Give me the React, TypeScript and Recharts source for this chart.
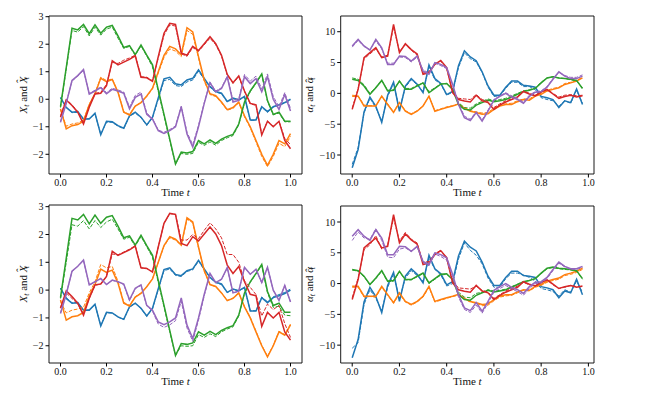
import React from "react";
import { LineChart, Line, XAxis, YAxis, ReferenceArea } from "recharts";

// time grid (left panels use all 41 steps, right panels stop at 0.975)
const T_X = [
  0, 0.025, 0.05, 0.075, 0.1, 0.125, 0.15, 0.175, 0.2, 0.225, 0.25, 0.275, 0.3, 0.325,
  0.35, 0.375, 0.4, 0.425, 0.45, 0.475, 0.5, 0.525, 0.55, 0.575, 0.6, 0.625, 0.65, 0.675,
  0.7, 0.725, 0.75, 0.775, 0.8, 0.825, 0.85, 0.875, 0.9, 0.925, 0.95, 0.975, 1.0
];
const T_A = T_X.slice(0, 40);

const X_TICKS = [0, 0.2, 0.4, 0.6, 0.8, 1.0];
const X_Y_TICKS = [-2, -1, 0, 1, 2, 3];
const A_Y_TICKS = [-10, -5, 0, 5, 10];

// state X_t (solid)
const xBlue = [0.07, -0.3, -0.47, -0.45, -0.72, -0.72, -0.51, -1.29, -0.8, -0.82, -0.96, -1.05, -0.6, -0.47, -0.65, -0.93, -0.65, 0.05, 0.74, 0.8, 0.56, 0.52, 0.7, 0.76, 1.07, 0.76, 0.46, 0.28, 0.22, -0.08, 0.04, -0.02, 0.1, -0.75, -0.75, -0.27, -0.45, -0.27, -0.2, -0.12, 0.0];
const xOrange = [-0.35, -1.08, -0.96, -0.92, -0.8, -0.2, 0.2, 0.76, 0.64, 0.72, 0.25, -0.47, -0.57, -0.25, -0.12, 0.12, 0.4, 1.0, 1.6, 1.92, 1.83, 1.62, 2.6, 2.45, 1.55, 0.7, 0.2, 0.13, -0.1, -0.38, -0.3, -0.1, -0.6, -1.0, -1.5, -2.0, -2.4, -2.0, -1.5, -1.62, -1.25];
const xGreen = [-0.27, 1.15, 2.58, 2.52, 2.72, 2.38, 2.7, 2.4, 2.62, 2.68, 2.3, 1.88, 1.95, 1.62, 1.97, 1.6, 1.25, 0.35, -0.55, -1.45, -2.35, -1.92, -1.95, -1.9, -1.5, -1.62, -1.48, -1.6, -1.45, -1.35, -1.28, -0.9, -0.1, 0.3, 0.6, 0.92, -0.05, -0.55, -0.47, -0.8, -0.8];
const xRed = [-0.65, -0.03, -0.23, -0.47, -0.9, -0.29, 0.19, 0.22, 0.49, 1.4, 1.25, 1.35, 1.45, 1.58, 0.8, 0.78, 0.65, 1.55, 2.4, 2.76, 2.72, 1.68, 1.6, 1.92, 1.77, 2.02, 2.27, 2.02, 1.6, 0.9, 0.6, 0.85, 0.3, -0.15, -0.2, -1.3, -0.8, -1.0, -0.8, -1.5, -1.8];
const xPurple = [-0.84, -0.15, 0.68, 0.86, 1.08, 0.19, 0.3, 0.42, 0.2, 0.36, 0.3, 0.22, -0.35, 0.07, 0.19, -0.55, -0.72, -1.14, -1.24, -1.14, -1.0, -0.28, -1.26, -1.74, -1.0, -0.15, 0.6, 0.27, 0.39, 0.81, -0.1, -0.04, 0.82, 0.57, 0.75, 0.27, 0.82, 0.0, -0.37, 0.17, -0.43];

// estimate X^_t, first run (dashed, top)
const xhBlue1 = [0.05, -0.28, -0.49, -0.47, -0.74, -0.7, -0.53, -1.27, -0.83, -0.84, -0.98, -1.07, -0.62, -0.5, -0.67, -0.95, -0.68, 0.0, 0.68, 0.72, 0.5, 0.46, 0.63, 0.7, 1.02, 0.72, 0.44, 0.26, 0.2, -0.1, 0.02, -0.04, 0.08, -0.77, -0.76, -0.29, -0.47, -0.29, -0.22, -0.14, -0.02];
const xhOrange1 = [-0.38, -0.98, -0.9, -0.86, -0.76, -0.18, 0.22, 0.8, 0.68, 0.74, 0.27, -0.45, -0.55, -0.24, -0.12, 0.1, 0.38, 0.95, 1.52, 1.83, 1.75, 1.55, 2.5, 2.36, 1.5, 0.66, 0.17, 0.1, -0.13, -0.4, -0.33, -0.13, -0.64, -1.04, -1.55, -2.08, -2.45, -2.08, -1.6, -1.72, -1.35];
const xhGreen1 = [-0.3, 1.1, 2.5, 2.44, 2.64, 2.3, 2.62, 2.33, 2.55, 2.62, 2.22, 1.85, 1.92, 1.6, 1.94, 1.57, 1.18, 0.28, -0.6, -1.5, -2.35, -1.97, -2.0, -1.97, -1.56, -1.68, -1.55, -1.67, -1.5, -1.4, -1.32, -0.93, -0.13, 0.27, 0.58, 0.9, -0.08, -0.57, -0.5, -0.82, -0.82];
const xhRed1 = [-0.6, 0.0, -0.2, -0.45, -0.86, -0.26, 0.22, 0.25, 0.54, 1.34, 1.3, 1.42, 1.5, 1.6, 0.82, 0.8, 0.67, 1.5, 2.33, 2.7, 2.66, 1.65, 1.56, 1.88, 1.74, 1.98, 2.22, 1.98, 1.57, 0.88, 0.58, 0.82, 0.28, -0.17, -0.22, -1.27, -0.8, -0.98, -0.8, -1.42, -1.65];
const xhPurple1 = [-0.8, -0.12, 0.66, 0.84, 1.05, 0.2, 0.33, 0.45, 0.24, 0.4, 0.34, 0.26, -0.28, 0.14, 0.26, -0.5, -0.7, -1.12, -1.2, -1.1, -0.97, -0.25, -1.2, -1.65, -0.95, -0.12, 0.62, 0.3, 0.42, 0.84, -0.05, 0.02, 0.9, 0.66, 0.84, 0.38, 0.92, 0.1, -0.27, 0.24, -0.33];

// estimate X^_t, second run (dashed, bottom)
const xhBlue2 = [0.06, -0.27, -0.46, -0.44, -0.72, -0.71, -0.52, -1.27, -0.82, -0.82, -0.97, -1.06, -0.61, -0.48, -0.66, -0.94, -0.67, 0.02, 0.7, 0.76, 0.53, 0.49, 0.67, 0.73, 1.04, 0.74, 0.45, 0.27, 0.2, -0.09, 0.03, -0.03, 0.09, -0.74, -0.74, -0.25, -0.42, -0.24, -0.16, -0.08, 0.04];
const xhOrange2 = [-0.4, -0.82, -0.72, -0.68, -0.62, -0.1, 0.3, 0.92, 0.8, 0.85, 0.32, -0.44, -0.55, -0.24, -0.1, 0.13, 0.41, 1.0, 1.58, 1.88, 1.8, 1.6, 2.55, 2.42, 1.52, 0.68, 0.2, 0.12, -0.1, -0.37, -0.28, -0.1, -0.6, -0.98, -1.48, -1.98, -2.38, -1.98, -1.48, -1.6, -1.22];
const xhGreen2 = [-0.3, 1.0, 2.35, 2.3, 2.5, 2.2, 2.5, 2.25, 2.45, 2.55, 2.2, 1.83, 1.9, 1.58, 1.93, 1.56, 1.18, 0.28, -0.6, -1.5, -2.35, -2.0, -2.02, -2.0, -1.6, -1.7, -1.57, -1.67, -1.5, -1.4, -1.32, -0.93, -0.12, 0.28, 0.58, 0.9, -0.1, -0.62, -0.58, -0.9, -0.92];
const xhRed2 = [-0.62, -0.1, -0.3, -0.5, -0.85, -0.3, 0.17, 0.22, 0.5, 1.3, 1.27, 1.37, 1.47, 1.6, 0.8, 0.78, 0.66, 1.55, 2.4, 2.75, 2.72, 1.8, 1.8, 2.0, 1.85, 2.15, 2.42, 2.2, 1.88, 1.28, 1.28, 1.0, 0.33, 0.1, -0.16, -0.93, -0.5, -0.7, -0.55, -1.2, -1.7];
const xhPurple2 = [-0.82, -0.13, 0.67, 0.85, 1.06, 0.18, 0.3, 0.4, 0.2, 0.35, 0.3, 0.2, -0.38, 0.05, 0.17, -0.57, -0.76, -1.22, -1.34, -1.25, -1.1, -0.4, -1.36, -1.84, -1.08, -0.2, 0.58, 0.26, 0.38, 0.8, -0.1, -0.04, 0.82, 0.56, 0.74, 0.26, 0.82, 0.0, -0.36, 0.17, -0.42];

// control alpha_t (solid)
const aBlue = [-12.05, -9.1, -3.0, -0.6, -2.1, -4.7, -0.3, 1.8, -2.9, 1.2, 2.4, 1.5, 0.1, 4.6, 2.4, 1.6, -0.2, 0.3, 4.5, 6.9, 5.9, 5.3, 3.5, 1.2, -0.3, -0.3, 1.0, 2.0, 2.0, 1.3, 1.2, 1.0, -0.5, -0.7, -1.0, -2.3, -1.2, -1.5, 0.7, -1.8];
const aOrange = [-0.45, -0.45, -2.05, -2.05, -2.05, -0.45, -1.8, -3.1, -1.5, -2.9, -3.4, -2.9, -2.05, -0.45, -2.9, -2.6, -2.3, -2.05, -1.75, -2.4, -2.9, -3.1, -3.4, -3.3, -2.6, -2.05, -1.8, -1.8, -1.35, -1.0, -1.1, -0.45, -0.15, 0.4, 0.65, 0.9, 1.45, 1.7, 2.0, 2.5];
const aGreen = [2.3, 2.1, 1.2, -0.15, 0.9, 2.1, 0.4, 0.5, 2.0, 0.65, 0.65, 1.2, 1.7, 0.1, 0.8, 1.5, 1.6, 0.65, -1.8, -2.6, -2.7, -1.9, -1.5, -1.1, -1.35, -1.2, -1.0, -0.6, -0.15, 0.3, 0.5, 0.8, 1.7, 2.5, 2.7, 2.5, 2.4, 2.3, 2.1, 0.8];
const aRed = [-2.6, 0.65, 5.8, 6.6, 7.4, 5.8, 6.05, 11.2, 6.6, 8.05, 7.1, 6.4, 3.1, 3.35, 4.7, 5.35, 4.2, 0.1, -1.0, -1.25, -1.4, -0.3, -1.2, -1.5, -2.6, -1.9, -1.4, -1.0, -0.6, 0.3, -0.1, -0.4, 0.2, 0.6, -0.1, -0.8, -0.5, -0.3, -0.6, -0.4];
const aPurple = [7.7, 8.75, 7.7, 7.0, 8.75, 7.4, 4.7, 4.7, 6.05, 6.0, 5.25, 6.05, 3.6, 3.1, 5.0, 4.7, 4.2, 1.5, -1.8, -3.95, -4.4, -3.1, -4.5, -2.9, -1.1, -0.5, 0.0, -0.6, -1.0, -1.6, -0.5, 0.2, 0.3, 1.0, 2.3, 3.5, 2.8, 2.4, 2.4, 2.8];

// estimate alpha^_t, first run (dashed, top)
const ahBlue1 = [-11.5, -8.8, -3.2, -0.8, -2.3, -4.5, -0.5, 1.6, -2.6, 1.0, 2.2, 1.4, 0.3, 4.3, 2.2, 1.5, -0.3, 0.2, 4.2, 6.6, 5.6, 5.1, 3.4, 1.0, -0.5, -0.4, 0.8, 1.8, 1.8, 1.1, 1.1, 0.6, -0.7, -1.0, -1.2, -2.1, -1.2, -1.6, 0.5, -1.6];
const ahOrange1 = [-0.3, -0.4, -1.9, -2.0, -2.0, -0.5, -1.7, -3.0, -1.5, -2.8, -3.3, -2.8, -2.0, -0.5, -2.8, -2.5, -2.2, -2.0, -1.7, -2.3, -2.8, -3.0, -3.2, -3.1, -2.4, -1.9, -1.7, -1.6, -1.2, -0.9, -0.9, -0.3, 0.0, 0.5, 0.8, 1.0, 1.6, 1.8, 2.1, 2.6];
const ahGreen1 = [2.5, 2.3, 1.4, 0.0, 1.0, 2.1, 0.5, 0.6, 2.0, 0.8, 0.8, 1.3, 1.7, 0.3, 0.9, 1.5, 1.6, 0.8, -1.5, -2.3, -2.4, -1.7, -1.3, -0.9, -1.2, -1.0, -0.8, -0.4, 0.0, 0.4, 0.6, 0.9, 1.8, 2.5, 2.7, 2.5, 2.4, 2.2, 2.0, 0.9];
const ahRed1 = [-2.4, 0.8, 5.6, 6.4, 7.2, 5.9, 6.2, 10.8, 6.8, 7.9, 7.0, 6.2, 3.3, 3.5, 4.8, 5.2, 4.0, 0.3, -0.8, -0.9, -1.0, -0.2, -1.0, -1.3, -2.3, -1.7, -1.2, -0.9, -0.5, 0.4, 0.0, -0.3, 0.3, 0.7, 0.0, -0.6, -0.3, -0.2, -0.4, -0.3];
const ahPurple1 = [7.5, 8.6, 7.6, 7.1, 8.5, 7.2, 4.9, 4.9, 5.9, 5.8, 5.1, 5.9, 3.8, 3.3, 4.9, 4.5, 4.0, 1.3, -1.6, -3.7, -4.2, -3.0, -4.3, -2.7, -1.0, -0.4, 0.1, -0.4, -0.8, -1.4, -0.3, 0.3, 0.4, 1.1, 2.4, 3.4, 2.9, 2.6, 2.6, 3.0];

// estimate alpha^_t, second run (dashed, bottom)
const ahBlue2 = [-10.5, -9.6, -3.4, -1.0, -2.4, -4.4, -0.6, 1.5, -2.5, 0.9, 2.1, 1.3, 0.4, 4.2, 2.3, 1.4, -0.4, 0.0, 4.0, 6.6, 5.4, 4.6, 3.2, 0.9, -0.6, -0.6, 0.8, 1.7, 1.7, 1.4, 1.0, 0.4, -0.8, -1.0, -1.3, -2.0, -1.0, -1.4, 0.4, -1.4];
const ahOrange2 = [-0.6, -0.6, -2.2, -2.1, -2.2, -0.6, -1.9, -3.2, -1.7, -3.0, -3.5, -3.0, -2.2, -0.6, -3.0, -2.7, -2.4, -2.1, -1.9, -2.5, -3.0, -3.2, -3.6, -3.5, -2.8, -2.2, -2.0, -1.9, -1.5, -1.1, -1.2, -0.6, -0.3, 0.2, 0.5, 0.7, 1.3, 1.5, 1.8, 2.3];
const ahGreen2 = [2.2, 2.0, 1.1, -0.2, 0.8, 2.0, 0.3, 0.4, 1.9, 0.6, 0.6, 1.1, 1.6, 0.0, 0.7, 1.4, 1.5, 0.7, -1.4, -2.2, -2.3, -1.6, -1.4, -1.0, -1.2, -1.1, -0.9, -0.5, -0.1, 0.3, 0.5, 0.8, 1.6, 2.4, 2.6, 2.4, 2.3, 2.2, 2.0, 0.7];
const ahRed2 = [-2.3, 0.9, 5.5, 6.3, 7.8, 5.6, 6.3, 10.6, 6.9, 8.3, 7.2, 6.6, 3.4, 3.6, 4.9, 5.4, 4.2, 0.4, -0.7, -0.8, -0.9, -0.4, -1.1, -1.4, -2.4, -1.8, -1.2, -0.8, -0.4, 0.2, -0.2, -0.3, 0.1, 0.6, -0.2, -0.8, -0.6, -0.3, -0.5, -0.5];
const ahPurple2 = [7.0, 8.4, 7.4, 7.2, 8.9, 7.0, 4.3, 4.2, 5.6, 5.8, 5.2, 6.0, 3.4, 2.9, 4.8, 4.4, 3.8, 1.1, -2.2, -4.2, -4.7, -3.5, -4.8, -3.2, -1.4, -0.8, -0.3, -0.9, -1.3, -1.9, -0.8, 0.0, 0.1, 0.8, 2.1, 3.3, 2.7, 2.3, 2.3, 2.6];

// matplotlib tab10
const COLORS = ["#1f77b4", "#ff7f0e", "#2ca02c", "#d62728", "#9467bd"];
const SERIF = '"Liberation Serif", "DejaVu Serif", serif';

function makeRows(t: number[], solid: number[][], dashed: number[][]) {
  return t.map((tv, i) => {
    const row: Record<string, number> = { t: tv };
    solid.forEach((s, k) => (row["s" + k] = s[i]));
    dashed.forEach((d, k) => (row["d" + k] = d[i]));
    return row;
  });
}

const X_SOLID = [xBlue, xOrange, xGreen, xRed, xPurple];
const A_SOLID = [aBlue, aOrange, aGreen, aRed, aPurple];
const rowsX1 = makeRows(T_X, X_SOLID, [xhBlue1, xhOrange1, xhGreen1, xhRed1, xhPurple1]);
const rowsX2 = makeRows(T_X, X_SOLID, [xhBlue2, xhOrange2, xhGreen2, xhRed2, xhPurple2]);
const rowsA1 = makeRows(T_A, A_SOLID, [ahBlue1, ahOrange1, ahGreen1, ahRed1, ahPurple1]);
const rowsA2 = makeRows(T_A, A_SOLID, [ahBlue2, ahOrange2, ahGreen2, ahRed2, ahPurple2]);

const fmtY = (v: number) => (v < 0 ? "\u2212" + Math.abs(v) : String(v));

interface PanelProps {
  left: number;
  top: number;
  width: number;
  height: number;
  mLeft: number;
  mTop: number;
  mRight: number;
  yWidth: number;
  rows: Record<string, number>[];
  xDomain: [number, number];
  yDomain: [number, number];
  yTicks: number[];
  kind: "x" | "a";
  labelX: number;
}

function Panel(p: PanelProps) {
  const xAxisH = 26;
  const plotLeft = p.mLeft + p.yWidth;
  const plotRight = p.width - p.mRight;
  const plotBottom = p.height - xAxisH;
  const plotMidY = (p.mTop + plotBottom) / 2;
  const tickStyle = { fill: "#111", fontSize: 10, fontFamily: SERIF };

  const xLabel = () => (
    <text x={(plotLeft + plotRight) / 2} y={plotBottom + 22} textAnchor="middle" fontFamily={SERIF} fontSize={11} fill="#111">
      <tspan>Time </tspan>
      <tspan fontStyle="italic">t</tspan>
    </text>
  );

  // the hat is placed by hand, the combining mark does not sit well on alpha
  const yLabel = () => (
    <text
      x={p.labelX}
      y={plotMidY}
      transform={`rotate(-90, ${p.labelX}, ${plotMidY})`}
      textAnchor="middle"
      fontFamily={SERIF}
      fontSize={11}
      fill="#111"
    >
      <tspan fontStyle="italic">{p.kind === "x" ? "X" : "\u03b1"}</tspan>
      <tspan fontStyle="italic" fontSize={8} dy={2}>t</tspan>
      <tspan dy={-2}>{"  and "}</tspan>
      <tspan fontStyle="italic">{p.kind === "x" ? "X" : "\u03b1"}</tspan>
      <tspan dx={p.kind === "x" ? -6.5 : -5} dy={p.kind === "x" ? -3 : 0}>{"\u02c6"}</tspan>
      <tspan fontStyle="italic" fontSize={8} dx={p.kind === "x" ? 0 : -1} dy={p.kind === "x" ? 5 : 2}>t</tspan>
    </text>
  );

  const lines = COLORS.flatMap((c, k) => [
    <Line key={"s" + k} type="linear" dataKey={"s" + k} stroke={c} strokeWidth={1.5} dot={false} isAnimationActive={false} />,
    <Line key={"d" + k} type="linear" dataKey={"d" + k} stroke={c} strokeWidth={1} strokeDasharray="3.7 1.6" dot={false} isAnimationActive={false} />
  ]);

  return (
    <div style={{ position: "absolute", left: p.left, top: p.top }}>
      <LineChart width={p.width} height={p.height} data={p.rows} margin={{ top: p.mTop, right: p.mRight, left: p.mLeft, bottom: 0 }}>
        <XAxis
          dataKey="t"
          type="number"
          domain={p.xDomain}
          ticks={X_TICKS}
          tickFormatter={(v: number) => v.toFixed(1)}
          allowDataOverflow
          axisLine={false}
          tickLine={{ stroke: "#000" }}
          tickSize={3.5}
          tickMargin={1.5}
          tick={tickStyle}
          height={xAxisH}
          label={xLabel}
        />
        <YAxis
          type="number"
          domain={p.yDomain}
          ticks={p.yTicks}
          tickFormatter={fmtY}
          allowDataOverflow
          axisLine={false}
          tickLine={{ stroke: "#000" }}
          tickSize={3.5}
          tickMargin={2}
          tick={tickStyle}
          width={p.yWidth}
          label={yLabel}
        />
        <ReferenceArea x1={p.xDomain[0]} x2={p.xDomain[1]} y1={p.yDomain[0]} y2={p.yDomain[1]} fill="none" stroke="#000" strokeWidth={0.9} />
        {lines}
      </LineChart>
    </div>
  );
}

export default function App() {
  return (
    <div style={{ position: "absolute", left: 0, top: 0, width: 652, height: 399, background: "#fff" }}>
      <Panel left={0} top={0} width={320} height={200} mLeft={9} mTop={16} mRight={18} yWidth={40}
        rows={rowsX1} xDomain={[-0.05, 1.05]} yDomain={[-2.716, 3.025]} yTicks={X_Y_TICKS} kind="x" labelX={27} />
      <Panel left={300} top={0} width={304} height={200} mLeft={6.7} mTop={16} mRight={10} yWidth={34}
        rows={rowsA1} xDomain={[-0.04875, 1.02375]} yDomain={[-13.08, 12.55]} yTicks={A_Y_TICKS} kind="a" labelX={13} />
      <Panel left={0} top={189} width={320} height={200} mLeft={9} mTop={16} mRight={18} yWidth={40}
        rows={rowsX2} xDomain={[-0.05, 1.05]} yDomain={[-2.62, 3.06]} yTicks={X_Y_TICKS} kind="x" labelX={27} />
      <Panel left={300} top={190} width={304} height={199} mLeft={6.7} mTop={16} mRight={10} yWidth={34}
        rows={rowsA2} xDomain={[-0.04875, 1.02375]} yDomain={[-12.9, 12.6]} yTicks={A_Y_TICKS} kind="a" labelX={13} />
    </div>
  );
}
